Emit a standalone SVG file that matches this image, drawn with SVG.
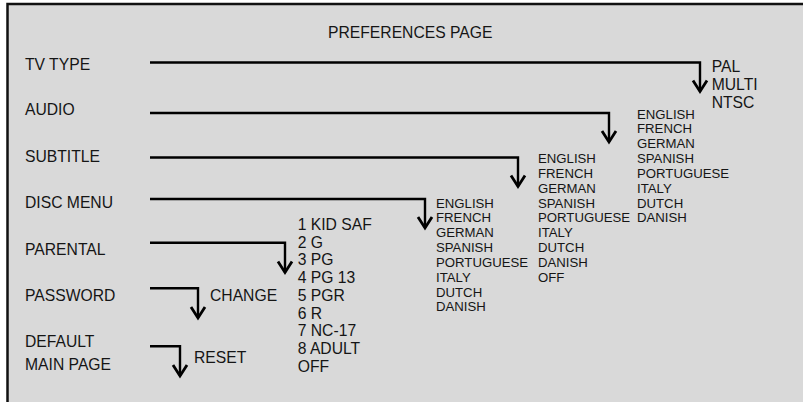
<svg xmlns="http://www.w3.org/2000/svg" width="803" height="402" viewBox="0 0 803 402">
<style>
text{font-family:"Liberation Sans",Arial,sans-serif;fill:#151515}
.lbl{font-size:15.7px}
.sm{font-size:13.2px}
.conn{fill:none;stroke:#000;stroke-width:2.4;stroke-linejoin:miter}
</style>
<defs>
<marker id="ah" markerUnits="userSpaceOnUse" orient="auto" viewBox="-14 -10 18 20" refX="0" refY="0" markerWidth="18" markerHeight="20" overflow="visible">
<path d="M-11,-7 L0,0 L-11,7" fill="none" stroke="#000" stroke-width="2.8" stroke-linejoin="miter"/>
</marker>
</defs>
<rect x="0" y="0" width="803" height="402" fill="#fff"/>
<rect x="7.5" y="4" width="820" height="420" fill="#d9d9d9" stroke="#111" stroke-width="2.5"/>
<g id="title"><text class="lbl" x="328" y="38.3">PREFERENCES PAGE</text></g>
<g id="tv-type"><text class="lbl" x="25" y="69.5">TV TYPE</text></g>
<g id="audio"><text class="lbl" x="25" y="115">AUDIO</text></g>
<g id="subtitle"><text class="lbl" x="25" y="161.5">SUBTITLE</text></g>
<g id="disc-menu"><text class="lbl" x="25" y="208">DISC MENU</text></g>
<g id="parental"><text class="lbl" x="25" y="254.5">PARENTAL</text></g>
<g id="password"><text class="lbl" x="25" y="301">PASSWORD</text></g>
<g id="default"><text class="lbl" x="25" y="347">DEFAULT</text><text class="lbl" x="25" y="370">MAIN PAGE</text></g>
<g id="tv-type-options"><text class="lbl" x="711.7" y="72.3">PAL<tspan x="711.7" dy="18">MULTI</tspan><tspan x="711.7" dy="18">NTSC</tspan></text></g>
<g id="audio-options"><text class="sm" x="637" y="118.5">ENGLISH<tspan x="637" dy="14.85">FRENCH</tspan><tspan x="637" dy="14.85">GERMAN</tspan><tspan x="637" dy="14.85">SPANISH</tspan><tspan x="637" dy="14.85">PORTUGUESE</tspan><tspan x="637" dy="14.85">ITALY</tspan><tspan x="637" dy="14.85">DUTCH</tspan><tspan x="637" dy="14.85">DANISH</tspan></text></g>
<g id="subtitle-options"><text class="sm" x="538" y="163">ENGLISH<tspan x="538" dy="14.85">FRENCH</tspan><tspan x="538" dy="14.85">GERMAN</tspan><tspan x="538" dy="14.85">SPANISH</tspan><tspan x="538" dy="14.85">PORTUGUESE</tspan><tspan x="538" dy="14.85">ITALY</tspan><tspan x="538" dy="14.85">DUTCH</tspan><tspan x="538" dy="14.85">DANISH</tspan><tspan x="538" dy="14.85">OFF</tspan></text></g>
<g id="disc-menu-options"><text class="sm" x="436" y="207.5">ENGLISH<tspan x="436" dy="14.85">FRENCH</tspan><tspan x="436" dy="14.85">GERMAN</tspan><tspan x="436" dy="14.85">SPANISH</tspan><tspan x="436" dy="14.85">PORTUGUESE</tspan><tspan x="436" dy="14.85">ITALY</tspan><tspan x="436" dy="14.85">DUTCH</tspan><tspan x="436" dy="14.85">DANISH</tspan></text></g>
<g id="parental-options"><text class="lbl" x="297.7" y="230">1 KID SAF<tspan x="297.7" dy="17.7">2 G</tspan><tspan x="297.7" dy="17.7">3 PG</tspan><tspan x="297.7" dy="17.7">4 PG 13</tspan><tspan x="297.7" dy="17.7">5 PGR</tspan><tspan x="297.7" dy="17.7">6 R</tspan><tspan x="297.7" dy="17.7">7 NC-17</tspan><tspan x="297.7" dy="17.7">8 ADULT</tspan><tspan x="297.7" dy="17.7">OFF</tspan></text></g>
<g id="password-option"><text class="lbl" x="210" y="300.5">CHANGE</text></g>
<g id="default-option"><text class="lbl" x="194" y="363">RESET</text></g>
<g id="connectors">
<path class="conn" d="M150,62.5 H700 V91.5" marker-end="url(#ah)"/>
<path class="conn" d="M150,113 H609 V142" marker-end="url(#ah)"/>
<path class="conn" d="M150,157.5 H518 V186.5" marker-end="url(#ah)"/>
<path class="conn" d="M150,199 H425 V228" marker-end="url(#ah)"/>
<path class="conn" d="M150,242.7 H285 V272.5" marker-end="url(#ah)"/>
<path class="conn" d="M150,288.3 H198 V318" marker-end="url(#ah)"/>
<path class="conn" d="M150,346.3 H180 V376" marker-end="url(#ah)"/>
</g>
</svg>
